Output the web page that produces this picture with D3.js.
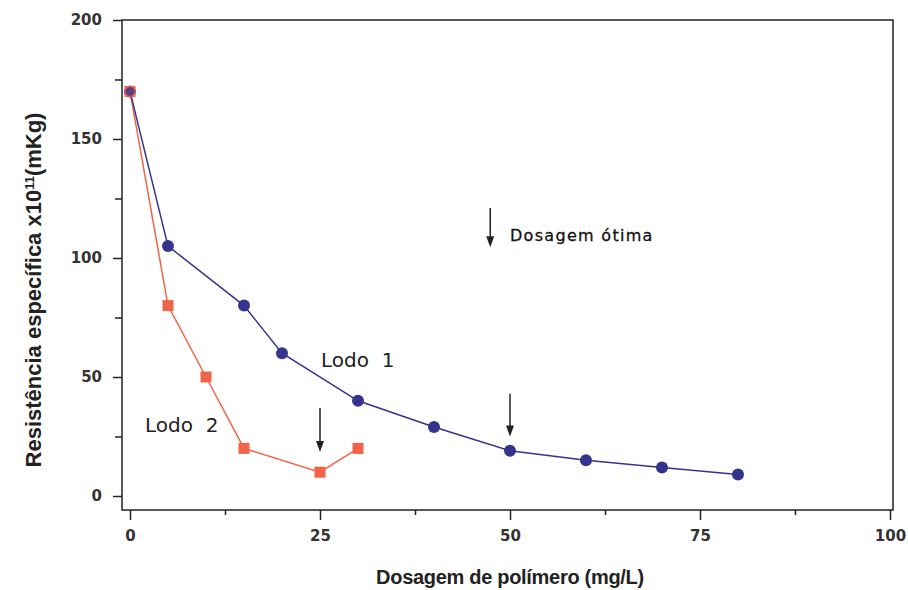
<!DOCTYPE html>
<html>
<head>
<meta charset="utf-8">
<script src="https://cdn.jsdelivr.net/npm/d3@7"></script>
<style>
  body { margin: 0; background: #fff; }
  svg { font-family: "Liberation Sans", Arial, sans-serif; }
</style>
</head>
<body>
<svg id="chart" width="908" height="590"></svg>
<script>
'use strict';

// Lodo 1 (blue circles)
let lodo1X = [0, 5, 15, 20, 30, 40, 50, 60, 70, 80];
let lodo1Y = [170, 105, 80, 60, 40, 29, 19, 15, 12, 9];

// Lodo 2 (orange squares)
let lodo2X = [0, 5, 10, 15, 25, 30];
let lodo2Y = [170, 80, 50, 20, 10, 20];

// optimal dosage arrows [x, yTop, yTip]
let arrowX = [25, 50, 47.4];
let arrowTop = [37, 43, 121];
let arrowTip = [18.5, 25, 104.5];

let xTicks = [0, 25, 50, 75, 100];
let xMinor = [12.5, 37.5, 62.5, 87.5];
let yTicks = [0, 50, 100, 150, 200];
let yMinor = [25, 75, 125, 175];

let blue = "#34348c";
let orange = "#f0644a";

function getChartConfig() {
    let svg = d3.select("#chart");
    let frame = { left: 122, right: 893, top: 20, bottom: 510 };
    return { svg, frame };
}

function getScales() {
    let xScale = d3.scaleLinear().domain([0, 100]).range([130, 890]);
    let yScale = d3.scaleLinear().domain([0, 200]).range([496, 20]);
    return { xScale, yScale };
}

function drawAxes(config, scales) {
    let { svg, frame } = config;
    let { xScale, yScale } = scales;

    svg.append("rect")
        .attr("x", frame.left)
        .attr("y", frame.top)
        .attr("width", frame.right - frame.left)
        .attr("height", frame.bottom - frame.top)
        .attr("fill", "none")
        .attr("stroke", "#222")
        .attr("stroke-width", 1.5);

    let xAxis = svg.append("g")
        .attr("transform", "translate(0," + frame.bottom + ")")
        .call(d3.axisBottom(xScale).tickValues(xTicks).tickSize(10).tickPadding(10));
    xAxis.select(".domain").remove();

    let xMin = svg.append("g")
        .attr("transform", "translate(0," + frame.bottom + ")")
        .call(d3.axisBottom(xScale).tickValues(xMinor).tickSize(5).tickFormat(""));
    xMin.select(".domain").remove();

    let yAxis = svg.append("g")
        .attr("transform", "translate(" + frame.left + ",0)")
        .call(d3.axisLeft(yScale).tickValues(yTicks).tickSize(9).tickPadding(11));
    yAxis.select(".domain").remove();

    let yMin = svg.append("g")
        .attr("transform", "translate(" + frame.left + ",0)")
        .call(d3.axisLeft(yScale).tickValues(yMinor).tickSize(7).tickFormat(""));
    yMin.select(".domain").remove();

    svg.selectAll(".tick line").attr("stroke", "#222").attr("stroke-width", 1.5);
    svg.selectAll(".tick text")
        .attr("fill", "#333")
        .style("font-family", "'DejaVu Sans', sans-serif")
        .style("font-size", "15px")
        .style("font-weight", "bold");

    svg.append("text")
        .attr("x", 510)
        .attr("y", 584)
        .attr("text-anchor", "middle")
        .style("font-size", "20px")
        .style("font-weight", "bold")
        .style("letter-spacing", "-0.3px")
        .attr("fill", "#222")
        .text("Dosagem de polímero (mg/L)");

    let yTitle = svg.append("text")
        .attr("transform", "translate(41,290) rotate(-90)")
        .attr("text-anchor", "middle")
        .style("font-size", "22px")
        .style("font-weight", "bold")
        .attr("fill", "#222");
    yTitle.append("tspan").text("Resistência específica x10");
    yTitle.append("tspan").attr("dy", -7).style("font-size", "13px").text("11");
    yTitle.append("tspan").attr("dy", 7).text("(mKg)");
}

function drawSeries(config, scales) {
    let { svg } = config;
    let { xScale, yScale } = scales;

    let line = d3.line()
        .x(d => xScale(d[0]))
        .y(d => yScale(d[1]));

    let data1 = lodo1X.map((x, i) => [x, lodo1Y[i]]);
    let data2 = lodo2X.map((x, i) => [x, lodo2Y[i]]);

    svg.append("path")
        .datum(data2)
        .attr("d", line)
        .attr("fill", "none")
        .attr("stroke", orange)
        .attr("stroke-width", 1.5);

    svg.append("path")
        .datum(data1)
        .attr("d", line)
        .attr("fill", "none")
        .attr("stroke", blue)
        .attr("stroke-width", 1.5);

    svg.selectAll(".dot1")
        .data(data1)
        .enter()
        .append("circle")
        .attr("class", "dot1")
        .attr("cx", d => xScale(d[0]))
        .attr("cy", d => yScale(d[1]))
        .attr("r", 6)
        .attr("fill", blue);

    svg.selectAll(".sq2")
        .data(data2)
        .enter()
        .append("rect")
        .attr("class", "sq2")
        .attr("x", d => xScale(d[0]) - 5.5)
        .attr("y", d => yScale(d[1]) - 5.5)
        .attr("width", 11)
        .attr("height", 11)
        .attr("fill", orange);

    // first point is shared: blue dot drawn on top of the square
    svg.append("circle")
        .attr("cx", xScale(lodo1X[0]))
        .attr("cy", yScale(lodo1Y[0]))
        .attr("r", 4.5)
        .attr("fill", blue)
        .attr("opacity", 0.8);
}

function drawAnnotations(config, scales) {
    let { svg } = config;
    let { xScale, yScale } = scales;

    arrowX.forEach((x, i) => {
        let px = xScale(x);
        svg.append("line")
            .attr("x1", px).attr("x2", px)
            .attr("y1", yScale(arrowTop[i]))
            .attr("y2", yScale(arrowTip[i]) - 6)
            .attr("stroke", "#222")
            .attr("stroke-width", 1.5);
        let tip = yScale(arrowTip[i]);
        svg.append("path")
            .attr("d", "M" + (px - 4) + "," + (tip - 11) + "L" + (px + 4) + "," + (tip - 11) + "L" + px + "," + tip + "Z")
            .attr("fill", "#222");
    });

    svg.append("text")
        .attr("x", 510)
        .attr("y", 241)
        .style("font-family", "'DejaVu Sans', sans-serif")
        .style("font-size", "16px")
        .style("letter-spacing", "1.3px")
        .attr("fill", "#111")
        .attr("stroke", "#111")
        .attr("stroke-width", 0.3)
        .text("Dosagem ótima");

    svg.append("text")
        .attr("x", 321)
        .attr("y", 367)
        .style("font-family", "'DejaVu Sans', sans-serif")
        .style("font-size", "20px")
        .style("white-space", "pre")
        .attr("fill", "#222")
        .text("Lodo  1");

    svg.append("text")
        .attr("x", 145)
        .attr("y", 432)
        .style("font-family", "'DejaVu Sans', sans-serif")
        .style("font-size", "20px")
        .style("white-space", "pre")
        .attr("fill", "#222")
        .text("Lodo  2");
}

function drawChart() {
    let config = getChartConfig();
    let scales = getScales();
    drawAxes(config, scales);
    drawSeries(config, scales);
    drawAnnotations(config, scales);
}

drawChart();
</script>
</body>
</html>
